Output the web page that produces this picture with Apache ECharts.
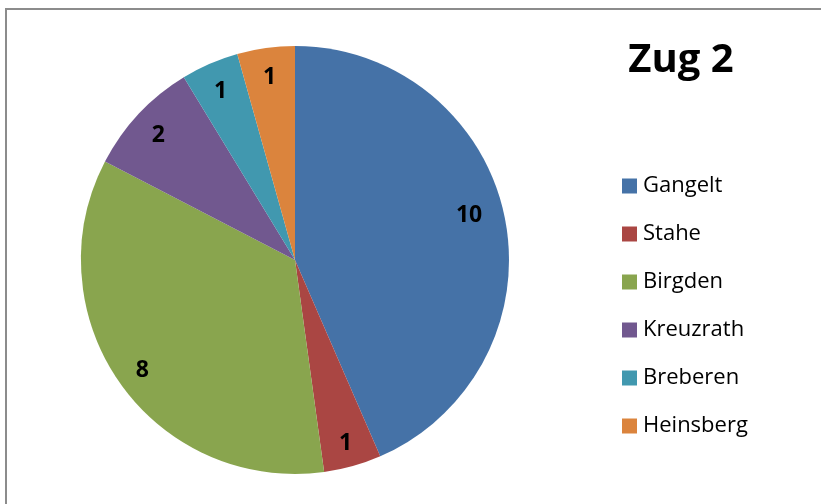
<!DOCTYPE html>
<html>
<head>
<meta charset="utf-8">
<title>Zug 2</title>
<script src="https://cdn.jsdelivr.net/npm/echarts@6/dist/echarts.min.js"></script>
<style>
  html, body { margin: 0; padding: 0; background: #fff; }
  #chart { width: 821px; height: 504px; }
</style>
</head>
<body>
<div id="chart"></div>
<script>
// 数据
var titleText = "Zug 2";
var orte = ["Gangelt", "Stahe", "Birgden", "Kreuzrath", "Breberen", "Heinsberg"];
var anzahl = [10, 1, 8, 2, 1, 1];
var farben = ["#4572A7", "#AA4643", "#89A54E", "#71588F", "#4198AF", "#DB843D"];

var pieData = [];
for (var i = 0; i < orte.length; i++) {
  pieData.push({ name: orte[i], value: anzahl[i] });
}

var chart = echarts.init(document.getElementById("chart"));
var fontFam = "'Open Sans', 'Noto Sans', sans-serif";

// 标签数据（透明层），第一个扇区的数字 Excel 放得稍靠上
var labelData = pieData.map(function (d, idx) {
  var item = { name: d.name, value: d.value };
  if (idx === 0) item.label = { offset: [-9, -7] };
  return item;
});

var option = {
  animation: false,
  color: farben,
  title: {
    text: titleText,
    left: 676,
    top: 36,
    textAlign: "center",
    textStyle: { fontFamily: fontFam, fontSize: 40, fontWeight: "bold", color: "#000" }
  },
  legend: {
    orient: "vertical",
    left: 617,
    top: 170,
    itemWidth: 15,
    itemHeight: 15,
    itemGap: 26,
    icon: "rect",
    data: orte,
    textStyle: { fontFamily: fontFam, fontSize: 22, lineHeight: 22, color: "#000", padding: [0, 0, 0, 1] }
  },
  graphic: [{
    type: "rect",
    shape: { x: 6, y: 9, width: 900, height: 600 },
    style: { fill: "none", stroke: "#8c8c8c", lineWidth: 2 },
    silent: true
  }],
  series: [
    {
      // 饼图本体
      type: "pie",
      center: [295, 260],
      radius: [0, 214],
      startAngle: 90,
      clockwise: true,
      silent: true,
      label: { show: false },
      labelLine: { show: false },
      itemStyle: { borderWidth: 0 },
      data: pieData
    },
    {
      // 透明的一层，只为把数字标签放到外圈
      type: "pie",
      center: [295, 260],
      radius: [0, 368],
      startAngle: 90,
      clockwise: true,
      silent: true,
      z: 3,
      itemStyle: { color: "transparent", borderWidth: 0 },
      label: {
        show: true,
        position: "inside",
        formatter: "{c}",
        offset: [0, 3],
        fontFamily: fontFam,
        fontSize: 23,
        fontWeight: "bold",
        color: "#000"
      },
      labelLine: { show: false },
      data: labelData
    }
  ]
};

chart.setOption(option);
</script>
</body>
</html>
